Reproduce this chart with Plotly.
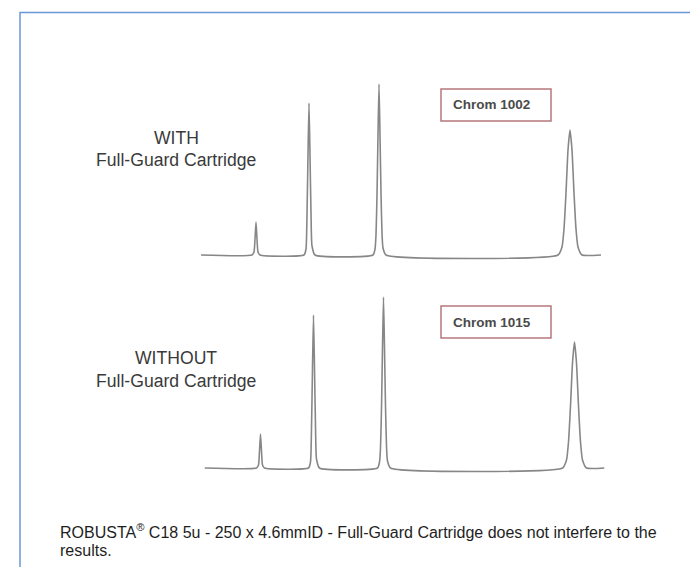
import plotly.graph_objects as go

# ---------------- data ----------------
# Chromatogram WITH Full-Guard Cartridge (time in min, signal in mAU)
with_time = [0.00,
             2.55, 2.65, 2.70, 2.75, 2.80, 2.85, 2.95,
             5.15, 5.25, 5.30, 5.35, 5.40, 5.45, 5.50, 5.55, 5.70,
             8.60, 8.70, 8.75, 8.80, 8.85, 8.90, 8.95, 9.00, 9.05, 9.10, 9.25,
             17.85, 18.05, 18.15, 18.25, 18.35, 18.45, 18.55, 18.65, 18.75, 18.85, 19.05,
             20.00]
with_signal = [0,
               0, 3, 16, 33, 16, 3, 0,
               0, 6, 40, 100, 152, 100, 42, 9, 0,
               0, 6, 20, 60, 120, 171, 120, 62, 22, 7, 0,
               0, 8, 26, 62, 105, 125, 105, 62, 26, 8, 0,
               0]

# Chromatogram WITHOUT Full-Guard Cartridge
without_time = [0.00,
                2.60, 2.70, 2.75, 2.80, 2.85, 2.90, 3.00,
                5.20, 5.30, 5.35, 5.40, 5.45, 5.50, 5.55, 5.60, 5.75,
                8.65, 8.75, 8.80, 8.85, 8.90, 8.95, 9.00, 9.05, 9.10, 9.15, 9.30,
                17.90, 18.10, 18.20, 18.30, 18.40, 18.50, 18.60, 18.70, 18.80, 18.90, 19.10,
                20.00]
without_signal = [0,
                  0, 3, 17, 34, 17, 3, 0,
                  0, 6, 40, 100, 153, 100, 42, 9, 0,
                  0, 6, 20, 60, 120, 171, 120, 62, 22, 7, 0,
                  0, 8, 26, 62, 105, 126, 105, 62, 26, 8, 0,
                  0]

chrom_labels = ["Chrom 1002", "Chrom 1015"]
side_labels = [["WITH", "Full-Guard Cartridge"], ["WITHOUT", "Full-Guard Cartridge"]]
caption_lines = ["ROBUSTA<sup>®</sup> C18 5u - 250 x 4.6mmID - Full-Guard Cartridge does not interfere to the",
                 "results."]

# ---------------- figure ----------------
W, H = 698, 567
def px(x):
    return x / W
def py(y):
    return 1 - y / H

FONT = "Liberation Sans, Arial, sans-serif"
LINE = dict(color="#878787", width=1.6, shape="spline", smoothing=0.5)

fig = go.Figure()
fig.add_trace(go.Scatter(x=with_time, y=with_signal, mode="lines", line=LINE,
                         xaxis="x", yaxis="y", hoverinfo="skip", showlegend=False))
fig.add_trace(go.Scatter(x=without_time, y=without_signal, mode="lines", line=LINE,
                         xaxis="x2", yaxis="y2", hoverinfo="skip", showlegend=False))

axis_off = dict(visible=False, showgrid=False, zeroline=False, fixedrange=True)

fig.update_layout(
    width=W, height=H,
    margin=dict(l=0, r=0, t=0, b=0),
    paper_bgcolor="white", plot_bgcolor="rgba(0,0,0,0)",
    xaxis=dict(domain=[px(193), px(593)], range=[0, 20], anchor="y", **axis_off),
    yaxis=dict(domain=[py(257), py(57)], range=[-10, 190], anchor="x", **axis_off),
    xaxis2=dict(domain=[px(196.5), px(596.5)], range=[0, 20], anchor="y2", **axis_off),
    yaxis2=dict(domain=[py(470), py(270)], range=[-10, 190], anchor="x2", **axis_off),
)

shapes = []
# outer frame
shapes.append(dict(type="rect", xref="paper", yref="paper",
                   x0=px(12), x1=px(692), y0=py(600), y1=py(4.5),
                   line=dict(color="#6b97d6", width=1.5), fillcolor="rgba(0,0,0,0)", layer="below"))
# chrom boxes
box_rows = [(81, 113), (298, 330)]
for (t, b) in box_rows:
    shapes.append(dict(type="rect", xref="paper", yref="paper",
                       x0=px(433), x1=px(543), y0=py(b), y1=py(t),
                       line=dict(color="#b7787c", width=1.5), fillcolor="white"))
fig.update_layout(shapes=shapes)

ann = []
for lab, (t, b) in zip(chrom_labels, box_rows):
    ann.append(dict(text="<b>" + lab + "</b>", xref="paper", yref="paper",
                    x=px(484), y=py((t + b) / 2), xanchor="center", yanchor="middle",
                    showarrow=False, font=dict(family=FONT, size=13.5, color="#4a4a4a")))

label_rows = [(130, 152.5), (350, 373)]
for labs, rows in zip(side_labels, label_rows):
    for txt, yy in zip(labs, rows):
        ann.append(dict(text=txt, xref="paper", yref="paper",
                        x=px(168), y=py(yy), xanchor="center", yanchor="middle",
                        showarrow=False, font=dict(family=FONT, size=17.6, color="#3a3a3a")))

for txt, yy in zip(caption_lines, [523, 542]):
    ann.append(dict(text=txt, xref="paper", yref="paper",
                    x=px(49.5), y=py(yy), xanchor="left", yanchor="middle",
                    showarrow=False, font=dict(family=FONT, size=16, color="#1e1e1e")))

fig.update_layout(annotations=ann)

fig.write_html("out.html")
